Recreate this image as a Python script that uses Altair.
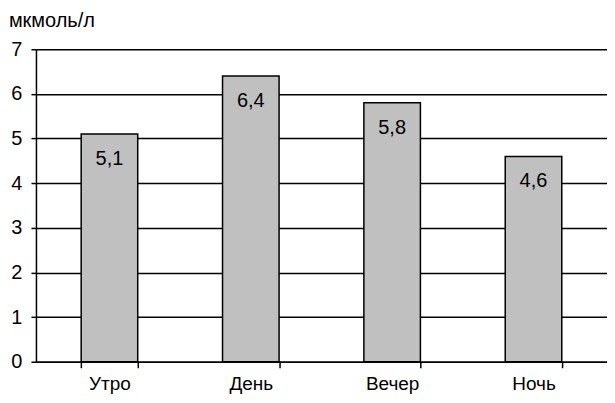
import altair as alt
import pandas as pd

categories = ["Утро", "День", "Вечер", "Ночь"]
values = [5.1, 6.4, 5.8, 4.6]
labels = ["5,1", "6,4", "5,8", "4,6"]

df = pd.DataFrame({"cat": categories, "val": values, "lab": labels})

FONT = "Liberation Sans"
FS = 20

x = alt.X("cat:N", sort=categories, title=None,
          scale=alt.Scale(paddingInner=0.6, paddingOuter=0.32),
          axis=alt.Axis(labelAngle=0, tickBand="extent", domainColor="black",
                        domainWidth=1.5, tickColor="black", tickWidth=1.5,
                        tickSize=6, labelPadding=7, labelFontSize=19,
                        labelColor="black", labelFont=FONT, grid=False))
y = alt.Y("val:Q", title=None,
          scale=alt.Scale(domain=[0, 7], nice=False),
          axis=alt.Axis(values=[0, 1, 2, 3, 4, 5, 6, 7], format="d",
                        domainColor="black", domainWidth=1.5,
                        tickColor="black", tickWidth=1.5, tickSize=5,
                        labelPadding=9, labelFontSize=FS, labelColor="black",
                        labelFont=FONT, grid=True, gridColor="black",
                        gridWidth=1.5, gridOpacity=1))

bars = alt.Chart(df).mark_bar(color="#C0C0C0", stroke="black", strokeWidth=1.5).encode(x=x, y=y)
text = alt.Chart(df).mark_text(baseline="middle", dy=25, fontSize=FS, font=FONT,
                               color="black").encode(x=alt.X("cat:N", sort=categories),
                                                     y="val:Q", text="lab:N")

chart = (bars + text).properties(
    width=572, height=313,
    padding={"left": 0, "top": 3, "right": 0, "bottom": 0},
    title=alt.TitleParams("мкмоль/л", anchor="start", dx=-2, fontSize=20,
                          font=FONT, fontWeight="normal", color="black", offset=8),
).configure_view(stroke=None)

chart.save("out.html", embed_options={"renderer": "svg", "actions": False})
